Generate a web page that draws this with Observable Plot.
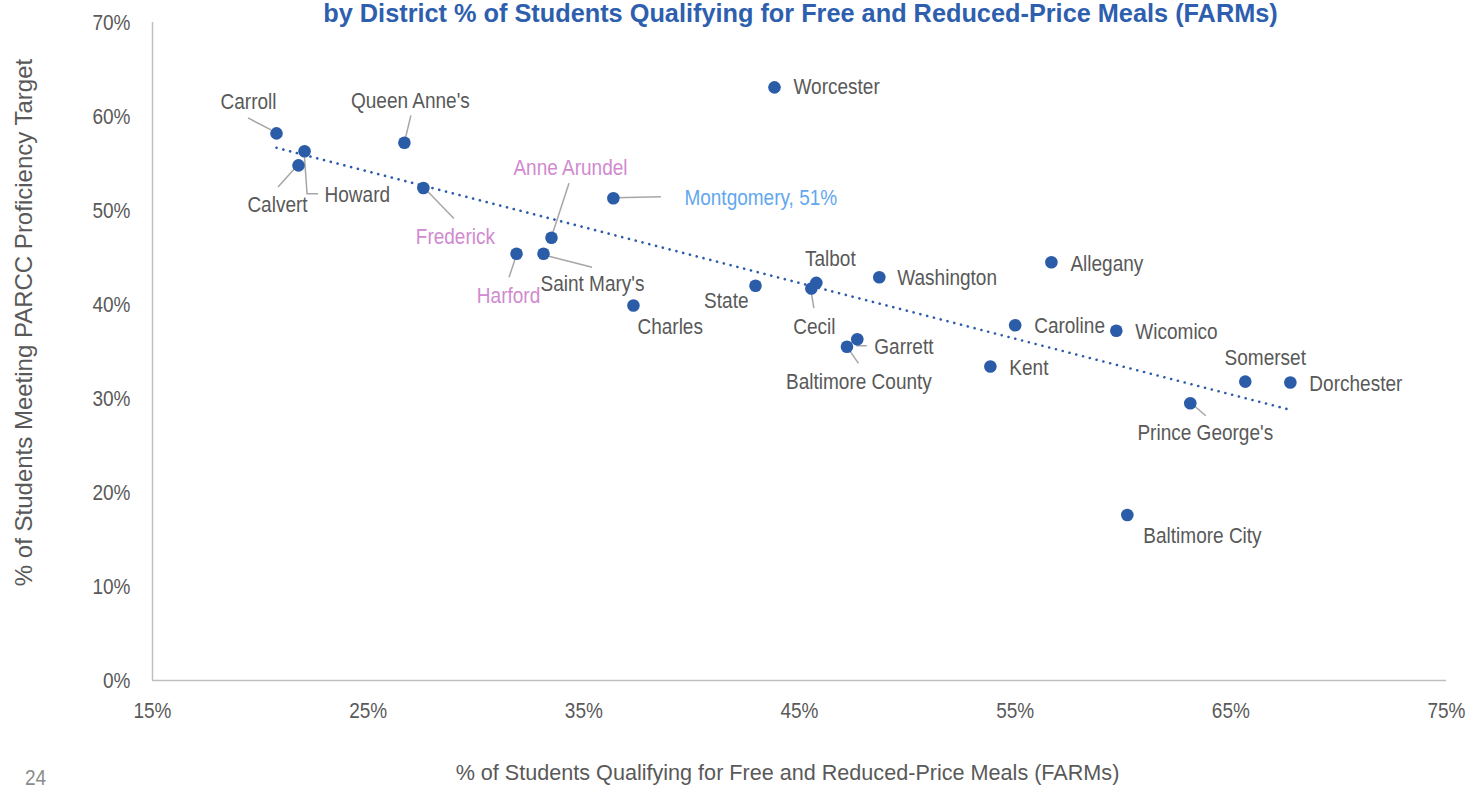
<!DOCTYPE html>
<html>
<head>
<meta charset="utf-8">
<script src="https://cdn.jsdelivr.net/npm/d3@7"></script>
<script src="https://cdn.jsdelivr.net/npm/@observablehq/plot@0.6"></script>
<style>
  html, body { margin: 0; padding: 0; background: #fff; }
  #chart { width: 1469px; height: 788px; overflow: hidden; }
</style>
</head>
<body>
<div id="chart"></div>
<script>
// ---- Data ----
const districts = ["Carroll","Howard","Calvert","Queen Anne's","Frederick","Harford","Saint Mary's","Anne Arundel","Montgomery","Charles","Worcester","State","Talbot","Cecil","Washington","Garrett","Baltimore County","Allegany","Caroline","Kent","Wicomico","Somerset","Dorchester","Prince George's","Baltimore City"];
const farmsPct = [20.75,22.05,21.77,26.68,27.56,31.88,33.13,33.5,36.37,37.3,43.84,42.96,45.78,45.55,48.7,47.68,47.2,56.68,55.0,53.85,59.69,65.67,67.76,63.12,60.2];
const proficiencyPct = [58.2,56.3,54.8,57.2,52.4,45.4,45.4,47.1,51.3,39.9,63.1,42.0,42.3,41.7,42.9,36.3,35.5,44.5,37.8,33.4,37.2,31.8,31.7,29.5,17.6];
const labelTexts = ["Carroll","Howard","Calvert","Queen Anne's","Frederick","Harford","Saint Mary's","Anne Arundel","Montgomery, 51%","Charles","Worcester","State","Talbot","Cecil","Washington","Garrett","Baltimore County","Allegany","Caroline","Kent","Wicomico","Somerset","Dorchester","Prince George's","Baltimore City"];
const pinkDistricts = ["Frederick","Harford","Anne Arundel"];
const blueDistricts = ["Montgomery"];
const xTicks = [15,25,35,45,55,65,75];
const yTicks = [0,10,20,30,40,50,60,70];

const title = "by District % of Students Qualifying for Free and Reduced-Price Meals (FARMs)";
const xLabel = "% of Students Qualifying for Free and Reduced-Price Meals (FARMs)";
const yLabel = "% of Students Meeting PARCC Proficiency Target";
const pageNumber = "24";

// ---- Label layout (pixel offsets from each point; styling only) ----
const labelLayout = {
  "Carroll": {anchor: "middle", dx: -28, dy: -31, leader: [[-28,-15],[-5,-3]]},
  "Howard": {anchor: "start", dx: 20, dy: 44, leader: [[0,0],[3,43],[14,43]]},
  "Calvert": {anchor: "middle", dx: -21, dy: 40, leader: [[-20,22],[-2,2]]},
  "Queen Anne's": {anchor: "middle", dx: 6, dy: -42, leader: [[7,-27],[1,-2]]},
  "Frederick": {anchor: "middle", dx: 32, dy: 49, leader: [[2,1],[31,31]]},
  "Harford": {anchor: "middle", dx: -8, dy: 42, leader: [[0,3],[-7,24]]},
  "Saint Mary's": {anchor: "middle", dx: 49, dy: 30, leader: [[2,2],[49,14]]},
  "Anne Arundel": {anchor: "middle", dx: 19, dy: -70, leader: [[18,-54],[1,-2]]},
  "Montgomery": {anchor: "start", dx: 71, dy: 0, leader: [[2,0],[48,-1]]},
  "Charles": {anchor: "start", dx: 4, dy: 22},
  "Worcester": {anchor: "start", dx: 19, dy: 0},
  "State": {anchor: "end", dx: -7, dy: 15},
  "Talbot": {anchor: "middle", dx: 14, dy: -24},
  "Cecil": {anchor: "middle", dx: 3, dy: 38, leader: [[0,2],[3,20]]},
  "Washington": {anchor: "start", dx: 18, dy: 1},
  "Garrett": {anchor: "start", dx: 17, dy: 8, leader: [[0,0],[0,7],[10,7]]},
  "Baltimore County": {anchor: "middle", dx: 12, dy: 35, leader: [[1,1],[12,17]]},
  "Allegany": {anchor: "start", dx: 19, dy: 2},
  "Caroline": {anchor: "start", dx: 19, dy: 1},
  "Kent": {anchor: "start", dx: 19, dy: 1},
  "Wicomico": {anchor: "start", dx: 19, dy: 1},
  "Somerset": {anchor: "middle", dx: 20, dy: -24},
  "Dorchester": {anchor: "start", dx: 19, dy: 1},
  "Prince George's": {anchor: "middle", dx: 15, dy: 30, leader: [[2,1],[16,13]]},
  "Baltimore City": {anchor: "start", dx: 16, dy: 21}
};

const data = districts.map((d, i) => ({district: d, farms: farmsPct[i], prof: proficiencyPct[i], label: labelTexts[i]}));

const FONT = '"Liberation Sans", Arial, sans-serif';
const NARROW = 0.865; // horizontal squeeze for labels and ticks (imitates a narrow face)
const pointColor = "#2b5ca8";
const textGrey = "#595959";
function labelColor(d) {
  if (pinkDistricts.includes(d)) return "#d08ad0";
  if (blueDistricts.includes(d)) return "#62a7ee";
  return textGrey;
}

// Leader lines drawn with the plot's own scales
function leaders(index, scales) {
  const g = d3.create("svg:g").attr("stroke", "#a6a6a6").attr("stroke-width", 1.5).attr("fill", "none");
  for (const d of data) {
    const L = labelLayout[d.district];
    if (!L || !L.leader) continue;
    const px = scales.x(d.farms), py = scales.y(d.prof);
    g.append("polyline").attr("points", L.leader.map(([a, b]) => `${px + a},${py + b}`).join(" "));
  }
  return g.node();
}

const labelMarks = data.map(d => {
  const L = labelLayout[d.district];
  return Plot.text([d], {
    x: "farms", y: "prof", text: "label",
    textAnchor: L.anchor, lineAnchor: "middle", dx: L.dx, dy: L.dy,
    fill: labelColor(d.district), fontSize: 22
  });
});

const plot = Plot.plot({
  width: 1469,
  height: 788,
  marginTop: 22,
  marginBottom: 108,
  marginLeft: 152,
  marginRight: 23,
  style: {fontFamily: FONT, background: "#fff"},
  x: {domain: [15, 75], ticks: xTicks, tickFormat: d => d + "%", label: null},
  y: {domain: [0, 70], ticks: yTicks, tickFormat: d => d + "%", label: null},
  marks: [
    Plot.ruleX([15], {stroke: "#bfbfbf", strokeWidth: 1.5}),
    Plot.ruleY([0], {stroke: "#bfbfbf", strokeWidth: 1.5}),
    Plot.axisX({ticks: xTicks, tickFormat: d => d + "%", tickSize: 0, tickPadding: 22, fontSize: 22, color: textGrey, label: null}),
    Plot.axisY({ticks: yTicks, tickFormat: d => d + "%", tickSize: 0, tickPadding: 22, fontSize: 22, color: textGrey, label: null}),
    leaders,
    Plot.linearRegressionY(data, {x: "farms", y: "prof", ci: 0, stroke: "#2b5ca8", strokeWidth: 2.6, strokeDasharray: "0.1 6.9", strokeLinecap: "round"}),
    Plot.dot(data, {x: "farms", y: "prof", r: 6.3, fill: pointColor, stroke: "none"}),
    ...labelMarks,
    Plot.text([title], {frameAnchor: "top", textAnchor: "middle", lineAnchor: "middle", dx: 1, dy: -9, fontSize: 25.3, fontWeight: "bold", fill: "#2e5fae"}),
    Plot.text([xLabel], {frameAnchor: "bottom", textAnchor: "middle", lineAnchor: "middle", dx: -12, dy: 93, fontSize: 21.6, fill: textGrey}),
    Plot.text([yLabel], {frameAnchor: "left", textAnchor: "middle", lineAnchor: "middle", rotate: -90, dx: -128, dy: -29, fontSize: 24, fill: textGrey}),
    Plot.text([pageNumber], {frameAnchor: "bottom-left", textAnchor: "middle", lineAnchor: "middle", dx: -117, dy: 97, fontSize: 22, fill: "#8c8c8c"})
  ]
});

// Squeeze labels and tick texts horizontally around their own anchor point
const unsqueezed = new Set([title, xLabel, yLabel]);
plot.querySelectorAll("text").forEach(t => {
  if (unsqueezed.has(t.textContent)) return;
  let tr = t.getAttribute("transform");
  if (!tr && (t.hasAttribute("x") || t.hasAttribute("y"))) {
    tr = `translate(${+t.getAttribute("x") || 0},${+t.getAttribute("y") || 0})`;
    t.removeAttribute("x"); t.removeAttribute("y");
  }
  t.setAttribute("transform", (tr ? tr + " " : "") + `scale(${NARROW},1)`);
});

document.getElementById("chart").appendChild(plot);
</script>
</body>
</html>
